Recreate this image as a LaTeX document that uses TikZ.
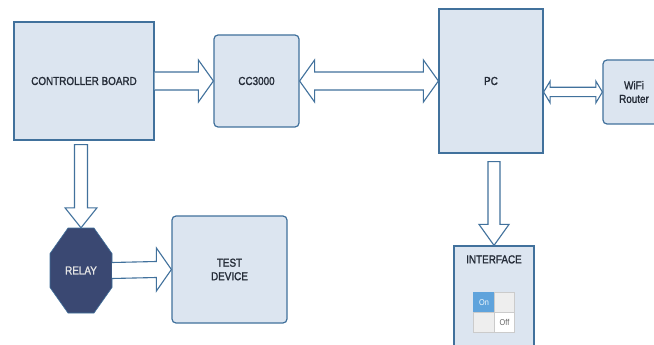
\documentclass[tikz,border=0pt]{standalone}
\usepackage{fontspec}
\setmainfont[FakeStretch=0.86]{Liberation Sans}
\newfontfamily\lblfont[FakeStretch=0.86,FakeBold=1.4]{Liberation Sans}
\usetikzlibrary{calc}
\definecolor{boxfill}{HTML}{DCE5F0}
\definecolor{boxline}{HTML}{41719C}
\definecolor{relayfill}{HTML}{3A4872}
\definecolor{txt}{HTML}{232A36}
\definecolor{onblue}{HTML}{5FA3DC}
\definecolor{cellgrey}{HTML}{EEEEEE}
\definecolor{cellline}{HTML}{CBCBCB}
\begin{document}
\begin{tikzpicture}[x=1pt,y=-1pt,
  blk/.style={draw=boxline,fill=boxfill,line width=1.2pt,inner sep=0pt,text=txt,
    font=\lblfont\fontsize{11.5}{13.5}\selectfont,align=center},
  rblk/.style={blk,rounded corners=4pt},
  barrow/.style={draw=boxline,fill=white,line width=1.1pt,line join=miter},
  cell/.style={draw=cellline,fill=cellgrey,line width=0.6pt,minimum width=20.5pt,minimum height=20pt,inner sep=0pt,font=\fontsize{8.5}{10}\selectfont}
]
\useasboundingbox[fill=white] (0,0) rectangle (654,345);

% nodes
\node[blk,minimum width=140pt,minimum height=118pt] (cb) at (84,81) {CONTROLLER BOARD};
\node[rblk,minimum width=85pt,minimum height=92pt] (cc) at (256.5,81) {CC3000};
\node[blk,minimum width=104pt,minimum height=144pt] (pc) at (491,81) {PC};
\node[rblk,minimum width=62pt,minimum height=64pt] (wifi) at (634,92) {WiFi\\Router};
\node[rblk,minimum width=115pt,minimum height=107pt] (test) at (229.5,269.5) {TEST\\DEVICE};
\node[blk,minimum width=80pt,minimum height=104pt] (iface) at (494,298) {};
\node[text=txt,font=\lblfont\fontsize{11.5}{13.5}\selectfont,anchor=center] (ifacet) at ($(iface.north)+(0,14)$) {INTERFACE};

% toggle switch
\node[cell,fill=onblue,draw=onblue,text=white!92!onblue] (on) at (484,302.5) {On};
\node[cell] (onr) at (504.5,302.5) {};
\node[cell] (offl) at (484,322.5) {};
\node[cell,fill=white,text=black!60] (off) at (504.5,322.5) {Off};

% relay octagon
\node[minimum width=62pt,minimum height=85pt,inner sep=0pt] (relay) at (81,270.5) {};
\fill[relayfill,draw=boxline,line width=0.6pt]
  ($(relay.center)+(-13,-42.5)$) -- ($(relay.center)+(13,-42.5)$) --
  ($(relay.center)+(31,-17)$) -- ($(relay.center)+(31,17)$) --
  ($(relay.center)+(13,42.5)$) -- ($(relay.center)+(-13,42.5)$) --
  ($(relay.center)+(-31,17)$) -- ($(relay.center)+(-31,-17)$) -- cycle;
\node[text=white!90!black,font=\lblfont\fontsize{11.5}{13.5}\selectfont] (relayt) at (relay.center) {RELAY};

% arrow: controller -> cc3000
\draw[barrow] (cb.east) ++(0,-9) -- ($(cc.west)+(-15,-9)$) -- ($(cc.west)+(-15,-21)$) -- (cc.west)
  -- ($(cc.west)+(-15,21)$) -- ($(cc.west)+(-15,9)$) -- ($(cb.east)+(0,9)$);

% double arrow: cc3000 <-> pc
\draw[barrow] (cc.east) -- ($(cc.east)+(15,-21)$) -- ($(cc.east)+(15,-9)$) -- ($(pc.west)+(-15,-9)$)
  -- ($(pc.west)+(-15,-21)$) -- (pc.west) -- ($(pc.west)+(-15,21)$) -- ($(pc.west)+(-15,9)$)
  -- ($(cc.east)+(15,9)$) -- ($(cc.east)+(15,21)$) -- cycle;

% double arrow: pc <-> wifi
\coordinate (pw) at (pc.east |- wifi.west);
\draw[barrow] (pw) -- ($(pw)+(6.5,-10.8)$) -- ($(pw)+(6.5,-4.7)$) -- ($(wifi.west)+(-6.5,-4.7)$)
  -- ($(wifi.west)+(-6.5,-10.8)$) -- (wifi.west) -- ($(wifi.west)+(-6.5,10.8)$) -- ($(wifi.west)+(-6.5,4.7)$)
  -- ($(pw)+(6.5,4.7)$) -- ($(pw)+(6.5,10.8)$) -- cycle;

% arrow: controller -> relay
\coordinate (cbs) at ($(cb.south -| relay.north)+(0,4)$);
\draw[barrow] ($(cbs)+(-6.5,0)$) -- ($(relay.north)+(-6.5,-20)$) -- ($(relay.north)+(-16,-20)$) -- (relay.north)
  -- ($(relay.north)+(16,-20)$) -- ($(relay.north)+(6.5,-20)$) -- ($(cbs)+(6.5,0)$) -- cycle;

% arrow: relay -> test device
\draw[barrow] ($(relay.east)+(0,-8)$) -- ($(test.west)+(-15,-8)$) -- ($(test.west)+(-15,-21.5)$) -- (test.west)
  -- ($(test.west)+(-15,21.5)$) -- ($(test.west)+(-15,8)$) -- ($(relay.east)+(0,8)$);

% arrow: pc -> interface
\coordinate (pcs) at ($(pc.south -| iface.north)+(0,8)$);
\draw[barrow] ($(pcs)+(-6,0)$) -- ($(iface.north)+(-6,-21)$) -- ($(iface.north)+(-15,-21)$) -- (iface.north)
  -- ($(iface.north)+(15,-21)$) -- ($(iface.north)+(6,-21)$) -- ($(pcs)+(6,0)$) -- cycle;
\end{tikzpicture}
\end{document}
